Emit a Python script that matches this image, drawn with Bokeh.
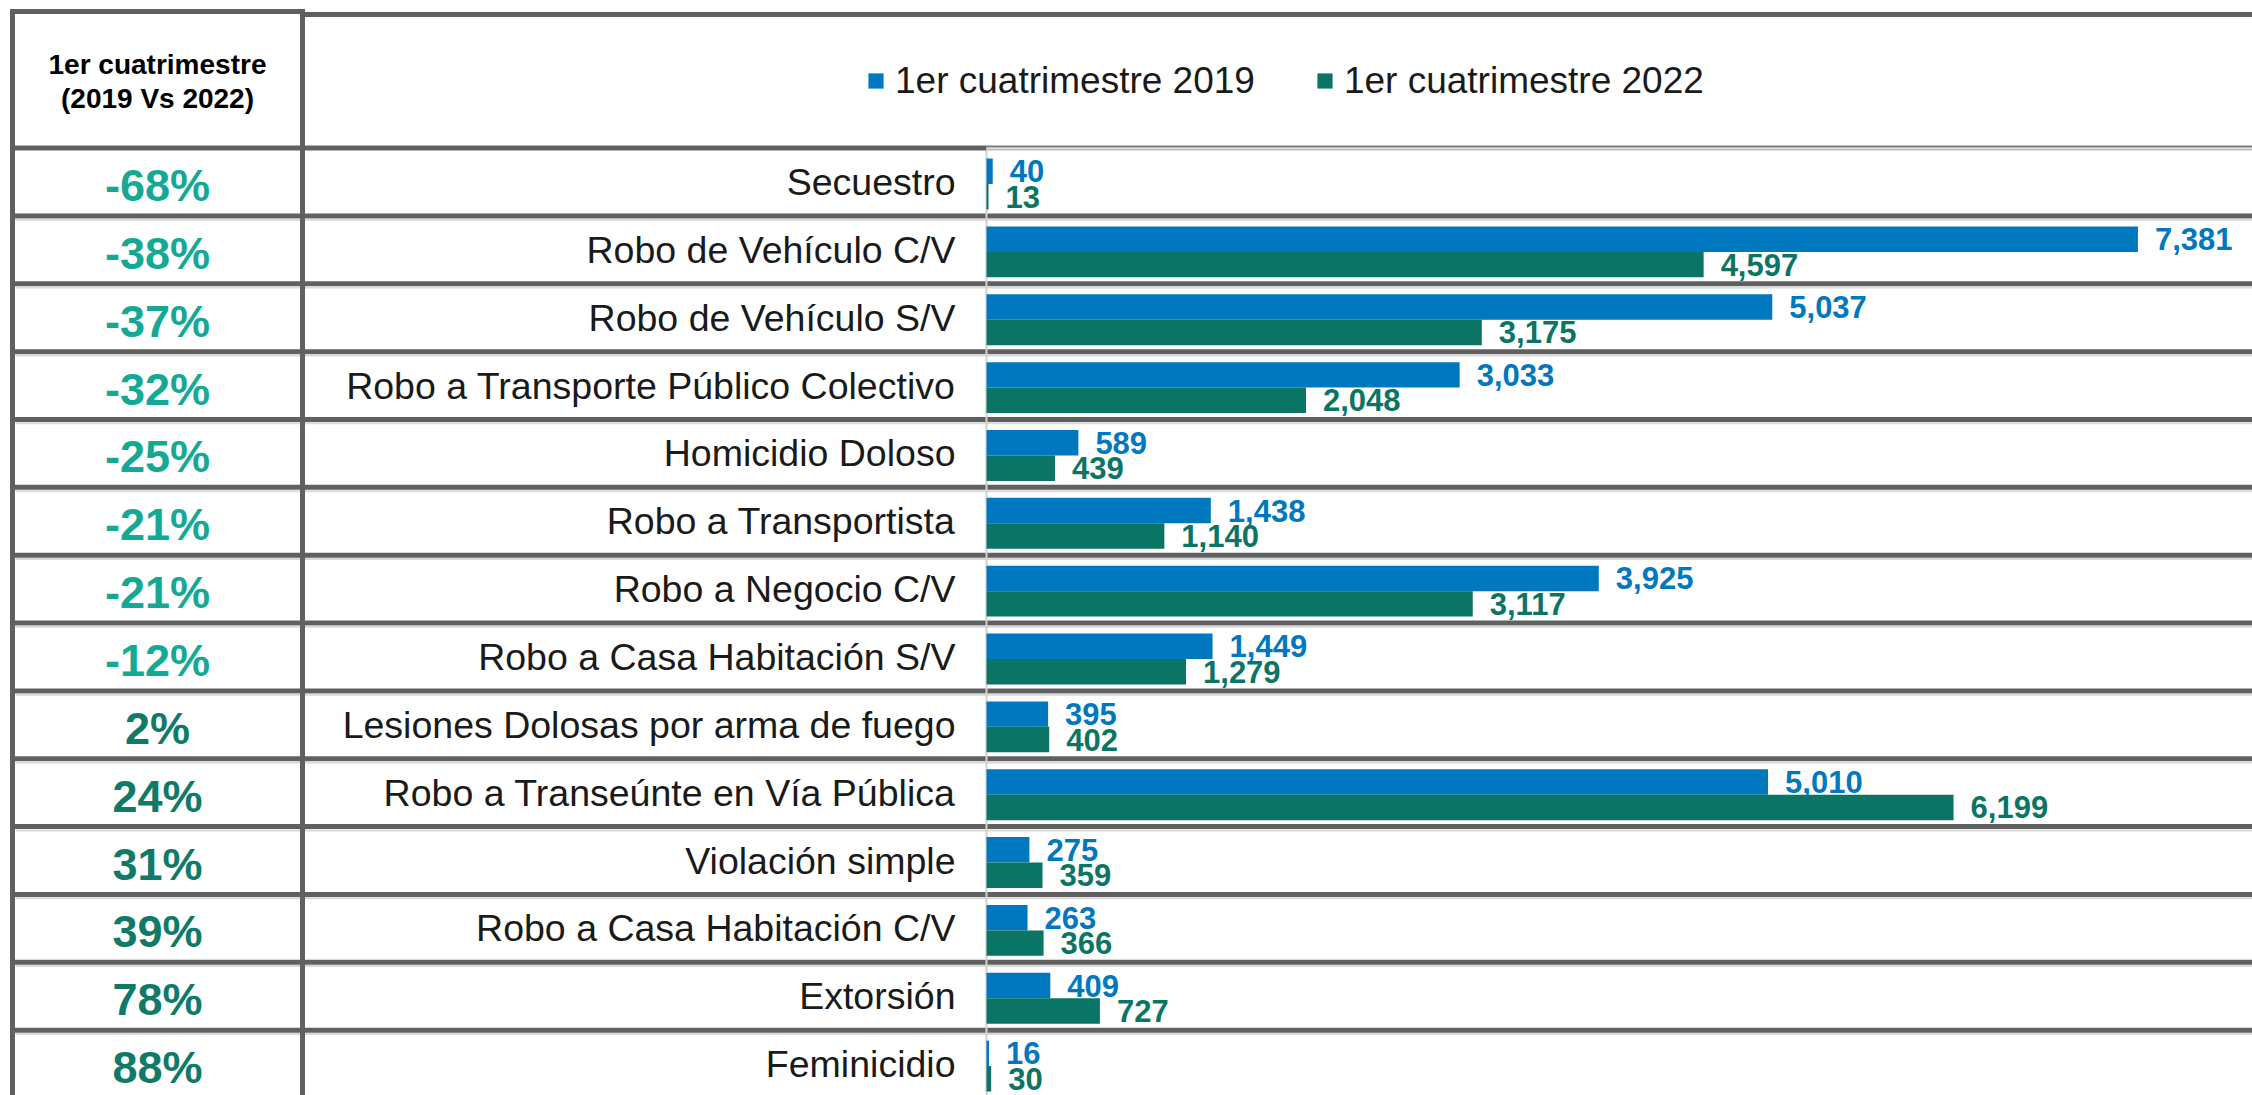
from bokeh.plotting import figure
from bokeh.models import Range1d, ColumnDataSource, Legend, LegendItem
from bokeh.core.properties import value
from bokeh.embed import file_html
from bokeh.resources import INLINE

# ---------------- data ----------------
categories = [
    "Secuestro",
    "Robo de Vehículo C/V",
    "Robo de Vehículo S/V",
    "Robo a Transporte Público Colectivo",
    "Homicidio Doloso",
    "Robo a Transportista",
    "Robo a Negocio C/V",
    "Robo a Casa Habitación S/V",
    "Lesiones Dolosas por arma de fuego",
    "Robo a Transeúnte en Vía Pública",
    "Violación simple",
    "Robo a Casa Habitación C/V",
    "Extorsión",
    "Feminicidio",
]
values_2019 = [40, 7381, 5037, 3033, 589, 1438, 3925, 1449, 395, 5010, 275, 263, 409, 16]
values_2022 = [13, 4597, 3175, 2048, 439, 1140, 3117, 1279, 402, 6199, 359, 366, 727, 30]
change_labels = ["-68%", "-38%", "-37%", "-32%", "-25%", "-21%", "-21%", "-12%",
                 "2%", "24%", "31%", "39%", "78%", "88%"]
series_names = ["1er cuatrimestre 2019", "1er cuatrimestre 2022"]
header_lines = ["1er cuatrimestre", "(2019 Vs 2022)"]

# ---------------- styles / layout ----------------
BLUE = "#0078bf"
GREEN = "#0b7565"
NEG_COL = "#14a994"
POS_COL = "#0e7a67"
LINE = "#606060"
LIGHT = "#d9d9d9"
TEXT = "#1a1a1a"

W, H = 2252, 1095
AXIS_X = 986.0        # page x of value 0
PX_PER_UNIT = 0.156   # px per unit
ROW0 = 181.5          # page y of first row centre
ROW_H = 67.85


def dx(px):
    return (px - AXIS_X) / PX_PER_UNIT


def dy(py):
    return (py - ROW0) / ROW_H


p = figure(width=W, height=H, output_backend="svg", toolbar_location=None,
           x_range=Range1d(dx(0), dx(W)),
           y_range=Range1d(dy(H), dy(0)),
           min_border=0)
p.axis.visible = False
p.grid.visible = False
p.outline_line_color = None
p.background_fill_color = "white"
p.border_fill_color = "white"

n = len(categories)
idx = list(range(n))
BAR_H = 0.375
SPLIT = 0.03

src = ColumnDataSource(dict(
    yc=idx,
    y19=[i + SPLIT - BAR_H / 2 for i in idx],
    y22=[i + SPLIT + BAR_H / 2 for i in idx],
    v19=values_2019,
    v22=values_2022,
    t19=[f"{v:,}" for v in values_2019],
    t22=[f"{v:,}" for v in values_2022],
    cat=categories,
    pct=change_labels,
    pcol=[NEG_COL if b < a else POS_COL for a, b in zip(values_2019, values_2022)],
))

# ---------------- table lines ----------------
XL, XS, XR = 12, 302, W
ys = [k - 0.5 for k in range(1, n + 1)]
p.segment(x0=[dx(XL)] * len(ys), x1=[dx(XR)] * len(ys), y0=ys, y1=ys,
          line_color=LINE, line_width=5)
ysl = [y + 3.8 / ROW_H for y in ys]
p.segment(x0=[dx(XL + 3)] * len(ys), x1=[dx(XR)] * len(ys), y0=ysl, y1=ysl,
          line_color=LIGHT, line_width=2)
# header bottom line
p.segment(x0=[dx(XL)], x1=[dx(AXIS_X)], y0=[-0.5], y1=[-0.5], line_color=LINE, line_width=5)
p.segment(x0=[dx(AXIS_X)], x1=[dx(XR)], y0=[-0.5 - 1.5 / ROW_H], y1=[-0.5 - 1.5 / ROW_H],
          line_color="#7a7a7a", line_width=2)
p.segment(x0=[dx(AXIS_X)], x1=[dx(XR)], y0=[-0.5 + 1.5 / ROW_H], y1=[-0.5 + 1.5 / ROW_H],
          line_color="#bdbdbd", line_width=2)
# top border
p.segment(x0=[dx(XL)], x1=[dx(XS)], y0=[dy(11)], y1=[dy(11)], line_color=LINE, line_width=5)
p.segment(x0=[dx(XS)], x1=[dx(XR)], y0=[dy(14)], y1=[dy(14)], line_color=LINE, line_width=5)
# vertical borders
p.segment(x0=[dx(XL), dx(XS)], x1=[dx(XL), dx(XS)], y0=[dy(8.5), dy(8.5)],
          y1=[dy(H), dy(H)], line_color=LINE, line_width=5)
# value axis line
p.segment(x0=[0], x1=[0], y0=[-0.5 + 2.5 / ROW_H], y1=[dy(H)],
          line_color="#d0d0d0", line_width=2)

# ---------------- bars ----------------
r19 = p.hbar(y="y19", left=0, right="v19", height=BAR_H, fill_color=BLUE,
             line_color=None, source=src)
r22 = p.hbar(y="y22", left=0, right="v22", height=BAR_H, fill_color=GREEN,
             line_color=None, source=src)

# value labels
p.text(x="v19", y="y19", text="t19", source=src, x_offset=17, y_offset=0,
       text_font=value("Liberation Sans"), text_font_style="bold",
       text_font_size="31px", text_color=BLUE, text_align="left",
       text_baseline="middle")
p.text(x="v22", y="y22", text="t22", source=src, x_offset=17, y_offset=0,
       text_font=value("Liberation Sans"), text_font_style="bold",
       text_font_size="31px", text_color=GREEN, text_align="left",
       text_baseline="middle")

# category labels
p.text(x=dx(955), y="yc", text="cat", source=src, y_offset=0,
       text_font=value("Liberation Sans"), text_font_size="37.5px",
       text_color=TEXT, text_align="right", text_baseline="middle")

# change labels
p.text(x=dx(157), y="yc", text="pct", source=src, y_offset=3.5,
       text_font=value("Liberation Sans"), text_font_style="bold",
       text_font_size="45px", text_color="pcol", text_align="center",
       text_baseline="middle")

# header of first column
p.text(x=[dx(157), dx(157)], y=[dy(64), dy(98)], text=header_lines,
       text_font=value("Liberation Sans"), text_font_style="bold",
       text_font_size="28px", text_color="black", text_align="center",
       text_baseline="middle")

# ---------------- legend ----------------
legend = Legend(
    items=[LegendItem(label=series_names[0], renderers=[r19]),
           LegendItem(label=series_names[1], renderers=[r22])],
    orientation="horizontal",
    location=(866, H - 101.5),
    glyph_width=19, glyph_height=19, label_standoff=10, spacing=60,
    padding=0, margin=0, border_line_color=None, background_fill_alpha=0,
    label_text_font="Liberation Sans", label_text_font_size="37px",
    label_text_color=TEXT,
)
p.add_layout(legend)

open("out.html", "w").write(file_html(p, INLINE))
